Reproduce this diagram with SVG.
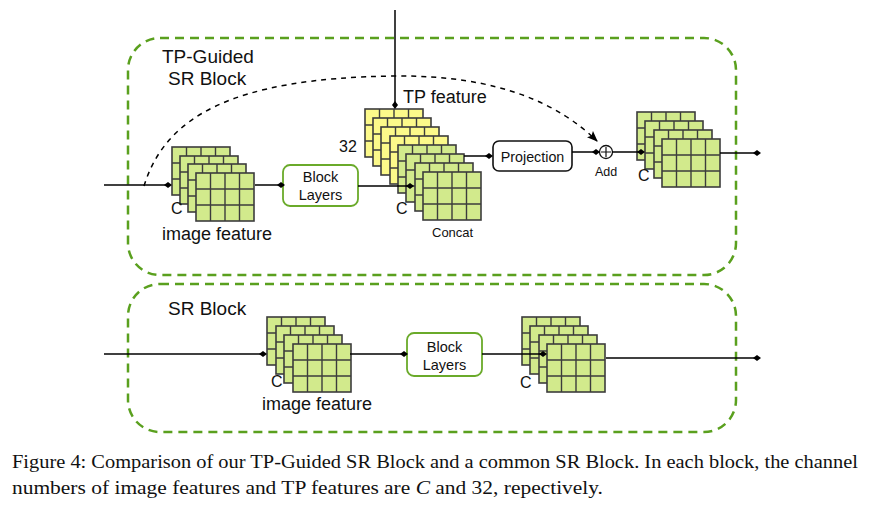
<svg xmlns="http://www.w3.org/2000/svg" xmlns:xlink="http://www.w3.org/1999/xlink" width="880" height="508" viewBox="0 0 880 508">
<style>
.frame{fill:none;stroke:#5aa01e;stroke-width:2.5;stroke-dasharray:9 6}
.cell{stroke:#3c3c3c;stroke-width:1.6}
.grid{stroke:#3c3c3c;stroke-width:1.4}
.blk{fill:#ffffff;stroke:#6aaa2a;stroke-width:1.8}
.proj{fill:#ffffff;stroke:#111;stroke-width:1.6}
.ln{fill:none;stroke:#000;stroke-width:1.5;marker-end:url(#dot)}
.t{font-family:"Liberation Sans",Arial,sans-serif;fill:#111}
.cap{font-family:"Liberation Serif","Times New Roman",serif;fill:#111;font-size:18.5px}
</style>
<defs>
<marker id="dot" viewBox="0 0 8 6" refX="4" refY="3" markerWidth="8" markerHeight="6" markerUnits="userSpaceOnUse" orient="auto">
<path d="M0,3 L4,0 L8,3 L4,6 Z" fill="#000"/>
</marker>
<marker id="arr" viewBox="0 0 10 8" refX="9" refY="4" markerWidth="11" markerHeight="9" markerUnits="userSpaceOnUse" orient="auto">
<path d="M0,0 L10,4 L0,8 L2,4 Z" fill="#000"/>
</marker>
<g id="lg">
<rect x="0" y="0" width="58" height="48" fill="#d2ea8c" class="cell"/>
<path class="grid" d="M14.5,0V48M29,0V48M43.5,0V48M0,16H58M0,32H58"/>
</g>
<g id="ly">
<rect x="0" y="0" width="58" height="48" fill="#fcf98a" class="cell"/>
<path class="grid" d="M14.5,0V48M29,0V48M43.5,0V48M0,16H58M0,32H58"/>
</g>
</defs>
<rect width="880" height="508" fill="#ffffff"/>

<g id="frame-tp">
<rect class="frame" x="128" y="38" width="608" height="237" rx="32"/>
<text class="t" x="162" y="63" font-size="19">TP-Guided</text>
<text class="t" x="168" y="85" font-size="19">SR Block</text>
</g>
<g id="frame-sr">
<rect class="frame" x="128" y="284" width="608" height="148" rx="32"/>
<text class="t" x="168" y="315" font-size="19">SR Block</text>
</g>

<g id="img-feat-top">
<use xlink:href="#lg" x="172" y="147"/>
<use xlink:href="#lg" x="180" y="156"/>
<use xlink:href="#lg" x="188" y="164"/>
<use xlink:href="#lg" x="196" y="173"/>
<text class="t" x="171" y="214" font-size="16">C</text>
<text class="t" x="162" y="240" font-size="18">image feature</text>
</g>

<g id="block-top">
<rect class="blk" x="283" y="165" width="75" height="41" rx="7"/>
<text class="t" x="320.5" y="182" font-size="14.5" text-anchor="middle">Block</text>
<text class="t" x="320.5" y="200" font-size="14.5" text-anchor="middle">Layers</text>
</g>

<g id="concat">
<use xlink:href="#ly" x="365" y="109"/>
<use xlink:href="#ly" x="373" y="118"/>
<use xlink:href="#ly" x="381" y="127"/>
<use xlink:href="#ly" x="390" y="136"/>
<use xlink:href="#lg" x="398" y="145"/>
<use xlink:href="#lg" x="406" y="154"/>
<use xlink:href="#lg" x="415" y="163"/>
<use xlink:href="#lg" x="423" y="172"/>
<text class="t" x="403" y="103" font-size="18">TP feature</text>
<text class="t" x="339" y="152" font-size="16">32</text>
<text class="t" x="396" y="214" font-size="16">C</text>
<text class="t" x="432" y="237" font-size="13">Concat</text>
</g>

<g id="projection">
<rect class="proj" x="493" y="141" width="79" height="30" rx="6"/>
<text class="t" x="532.5" y="162" font-size="14.3" text-anchor="middle">Projection</text>
</g>

<g id="add">
<circle cx="606" cy="152" r="6.5" fill="#fff" stroke="#111" stroke-width="1.3"/>
<path d="M601,152H611M606,147V157" stroke="#111" stroke-width="1.2"/>
<text class="t" x="606" y="176" font-size="12.5" text-anchor="middle">Add</text>
</g>

<g id="out-top">
<use xlink:href="#lg" x="637" y="112"/>
<use xlink:href="#lg" x="645" y="121"/>
<use xlink:href="#lg" x="654" y="130"/>
<use xlink:href="#lg" x="662" y="139"/>
<text class="t" x="638" y="181" font-size="16">C</text>
</g>

<g id="img-feat-bottom">
<use xlink:href="#lg" x="267" y="317"/>
<use xlink:href="#lg" x="276" y="326"/>
<use xlink:href="#lg" x="284" y="335"/>
<use xlink:href="#lg" x="293" y="344"/>
<text class="t" x="271" y="387" font-size="16">C</text>
<text class="t" x="262" y="410" font-size="18">image feature</text>
</g>

<g id="block-bottom">
<rect class="blk" x="407" y="333" width="75" height="43" rx="7"/>
<text class="t" x="444.5" y="352" font-size="14.5" text-anchor="middle">Block</text>
<text class="t" x="444.5" y="370" font-size="14.5" text-anchor="middle">Layers</text>
</g>

<g id="out-bottom">
<use xlink:href="#lg" x="522" y="317"/>
<use xlink:href="#lg" x="530" y="326"/>
<use xlink:href="#lg" x="539" y="335"/>
<use xlink:href="#lg" x="547" y="344"/>
<text class="t" x="520" y="388" font-size="16">C</text>
</g>

<g id="connectors">
<path class="ln" d="M104,185H168"/>
<path class="ln" d="M255,185H281"/>
<path class="ln" d="M358,186H410"/>
<path class="ln" d="M464,156H489"/>
<path class="ln" d="M572,152H596"/>
<path class="ln" d="M612,152H641"/>
<path class="ln" d="M720,153H757"/>
<path class="ln" d="M395,10V105"/>
<path d="M144,186 C165,118 230,78 395,76 C500,75 560,105 597,141" fill="none" stroke="#000" stroke-width="1.5" stroke-dasharray="5 5" marker-end="url(#arr)"/>
<path class="ln" d="M104,354H263"/>
<path class="ln" d="M350,354H404"/>
<path class="ln" d="M482,354H543"/>
<path class="ln" d="M606,358H757"/>
</g>

<g id="caption">
<text class="cap" x="12" y="468" textLength="846" lengthAdjust="spacingAndGlyphs">Figure 4: Comparison of our TP-Guided SR Block and a common SR Block. In each block, the channel</text>
<text class="cap" x="12" y="494" textLength="591" lengthAdjust="spacingAndGlyphs">numbers of image features and TP features are <tspan font-style="italic">C</tspan> and 32, repectively.</text>
</g>
</svg>
